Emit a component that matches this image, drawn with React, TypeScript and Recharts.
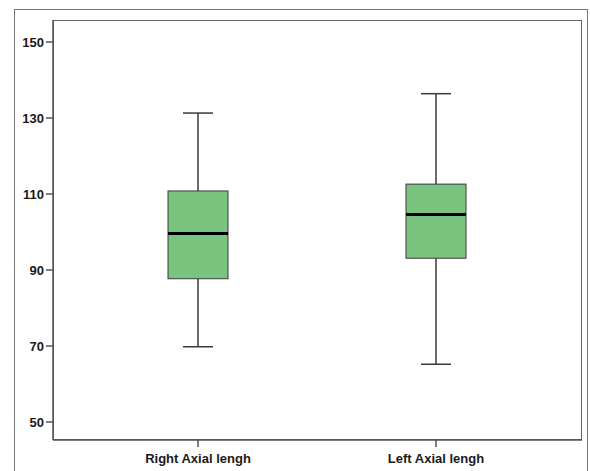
import React from "react";
import { ComposedChart, Bar, XAxis, YAxis } from "recharts";

const categories = ["Right Axial lengh", "Left Axial lengh"];
const whiskerLow = [69.8, 65.2];
const q1 = [87.7, 93.1];
const median = [99.6, 104.6];
const q3 = [110.8, 112.6];
const whiskerHigh = [131.3, 136.4];
const yTicks = [50, 70, 90, 110, 130, 150];

const data = categories.map((name, i) => ({
  name,
  range: [whiskerLow[i], whiskerHigh[i]],
  min: whiskerLow[i],
  q1: q1[i],
  median: median[i],
  q3: q3[i],
  max: whiskerHigh[i],
}));

// eslint-disable-next-line @typescript-eslint/no-explicit-any
function BoxShape(props: any) {
  const { x, y, width, height, payload } = props;
  if (x == null || y == null) return null;
  const { min, q1, median, q3, max } = payload;
  const py = (v: number) => y + ((max - v) / (max - min)) * height;
  const cx = x + width / 2;
  const capHalf = width / 4;
  return (
    <g>
      <line x1={cx} x2={cx} y1={py(max)} y2={py(q3)} stroke="#3a3a3a" strokeWidth={1.5} />
      <line x1={cx} x2={cx} y1={py(q1)} y2={py(min)} stroke="#3a3a3a" strokeWidth={1.5} />
      <line x1={cx - capHalf} x2={cx + capHalf} y1={py(max)} y2={py(max)} stroke="#3a3a3a" strokeWidth={1.5} />
      <line x1={cx - capHalf} x2={cx + capHalf} y1={py(min)} y2={py(min)} stroke="#3a3a3a" strokeWidth={1.5} />
      <rect x={x} y={py(q3)} width={width} height={py(q1) - py(q3)} fill="#79c47e" stroke="#3a3a3a" strokeWidth={1} />
      <line x1={x} x2={x + width} y1={py(median)} y2={py(median)} stroke="#000" strokeWidth={3} />
    </g>
  );
}

const tickStyle = { fill: "#1a1a1a", fontSize: 13, fontWeight: 700, fontFamily: "Arial, 'Liberation Sans', sans-serif" };

export default function App() {
  return (
    <div style={{ position: "absolute", left: 0, top: 0, width: 590, height: 471, background: "#fff", overflow: "hidden" }}>
      <div style={{ position: "absolute", left: 14, top: 9, width: 574, height: 480, border: "1.5px solid #777", boxSizing: "border-box" }} />
      <div style={{ position: "absolute", left: 53, top: 20, width: 529, height: 420, border: "1.5px solid #666", boxSizing: "border-box", pointerEvents: "none" }} />
      <ComposedChart width={590} height={471} data={data} margin={{ top: 20, right: 8, left: 13, bottom: 0 }}>
        <XAxis
          dataKey="name"
          type="category"
          padding={{ left: 26, right: 27 }}
          tick={tickStyle}
          tickSize={7}
          tickMargin={7}
          axisLine={{ stroke: "#555", strokeWidth: 1.5 }}
          tickLine={{ stroke: "#555", strokeWidth: 1.5 }}
          height={31}
        />
        <YAxis
          type="number"
          domain={[45.26, 155.79]}
          ticks={yTicks}
          tick={tickStyle}
          tickSize={7}
          width={40}
          allowDataOverflow
          axisLine={{ stroke: "#555", strokeWidth: 1.5 }}
          tickLine={{ stroke: "#555", strokeWidth: 1.5 }}
        />
        <Bar dataKey="range" barSize={60} shape={<BoxShape />} isAnimationActive={false} />
      </ComposedChart>
    </div>
  );
}
